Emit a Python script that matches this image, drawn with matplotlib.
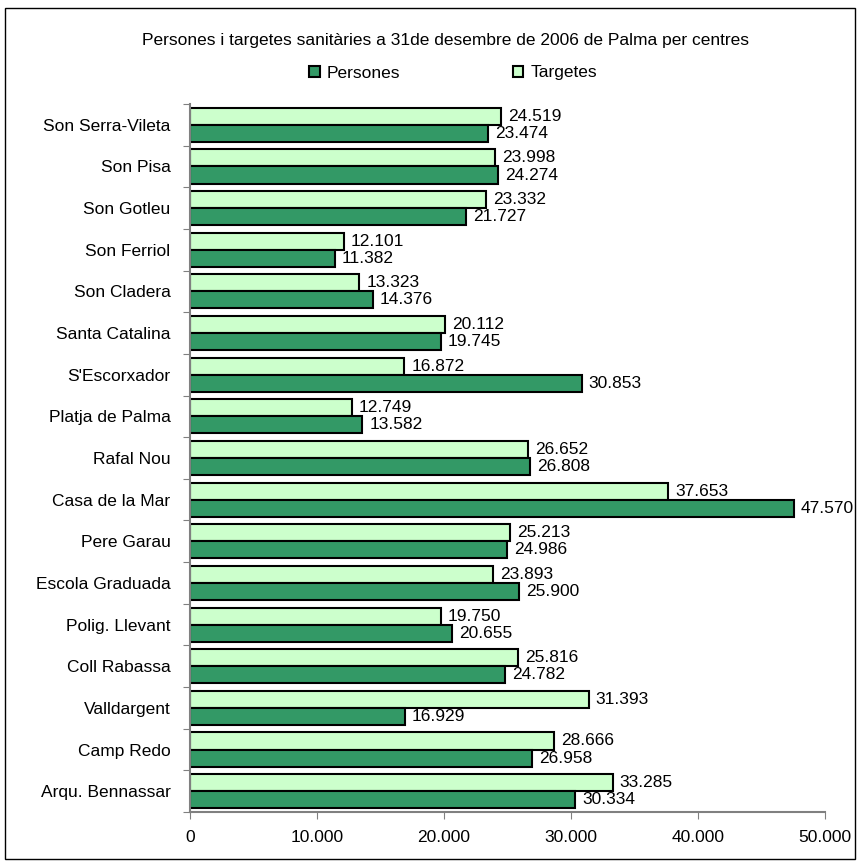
import numpy as np
import matplotlib
matplotlib.use("Agg")
import matplotlib.pyplot as plt
from matplotlib.patches import Rectangle
from matplotlib.ticker import FuncFormatter

plt.rcParams['font.family'] = ['Liberation Sans', 'DejaVu Sans']

# data, listed top to bottom as in the chart
centres = ["Son Serra-Vileta", "Son Pisa", "Son Gotleu", "Son Ferriol", "Son Cladera",
           "Santa Catalina", "S'Escorxador", "Platja de Palma", "Rafal Nou", "Casa de la Mar",
           "Pere Garau", "Escola Graduada", "Polig. Llevant", "Coll Rabassa", "Valldargent",
           "Camp Redo", "Arqu. Bennassar"]
targetes = [24519, 23998, 23332, 12101, 13323, 20112, 16872, 12749, 26652, 37653,
            25213, 23893, 19750, 25816, 31393, 28666, 33285]
persones = [23474, 24274, 21727, 11382, 14376, 19745, 30853, 13582, 26808, 47570,
            24986, 25900, 20655, 24782, 16929, 26958, 30334]

dark = "#339966"
light = "#CCFFCC"
fs = 12.5


def dot_thousands(v):
    return f"{int(v):,}".replace(",", ".")


fig = plt.figure(figsize=(8.61, 8.65), dpi=100)
ax = fig.add_axes([190/861, 1 - 812/865, 635/861, (812 - 104)/865])

# outer frame around the chart
fig.patches.append(Rectangle((5/861, 1 - 859/865), 850/861, 851/865, transform=fig.transFigure,
                             fill=False, edgecolor="black", linewidth=1.0))

n = len(centres)
y = np.arange(n)[::-1]
h = 0.41
b_t = ax.barh(y + h/2, targetes, height=h, color=light, edgecolor="black", linewidth=1.5, label="Targetes")
b_p = ax.barh(y - h/2, persones, height=h, color=dark, edgecolor="black", linewidth=1.5, label="Persones")

for yy, v in zip(y, targetes):
    ax.text(v + 550, yy + h/2, dot_thousands(v), va="center", ha="left", fontsize=fs)
for yy, v in zip(y, persones):
    ax.text(v + 550, yy - h/2, dot_thousands(v), va="center", ha="left", fontsize=fs)

ax.set_xlim(0, 50000)
ax.set_ylim(-0.5, n - 0.5)
ax.set_xticks(np.arange(0, 50001, 10000))
ax.xaxis.set_major_formatter(FuncFormatter(lambda v, p: dot_thousands(v)))
ax.tick_params(axis="x", labelsize=fs, direction="out", length=5, color="#808080", pad=8)

ax.set_yticks(np.arange(-0.5, n, 1.0))
ax.set_yticklabels([])
ax.set_yticks(y, minor=True)
ax.set_yticklabels(centres, minor=True)
ax.tick_params(axis="y", which="major", direction="out", length=5, color="#808080")
ax.tick_params(axis="y", which="minor", length=0, labelsize=fs, pad=14)

for s in ["top", "right"]:
    ax.spines[s].set_visible(False)
for s in ["left", "bottom"]:
    ax.spines[s].set_color("#808080")
    ax.spines[s].set_linewidth(1.5)

fig.text(445/861, 1 - 41/865, "Persones i targetes sanitàries a 31de desembre de 2006 de Palma per centres",
         ha="center", va="center", fontsize=fs)
fig.legend(handles=[b_p, b_t], loc="center", bbox_to_anchor=(453/861, 1 - 73/865), ncol=2,
           frameon=False, fontsize=fs, handlelength=0.6, handleheight=0.6, columnspacing=6.5,
           handletextpad=0.4)

fig.savefig("out.png", dpi=100)
